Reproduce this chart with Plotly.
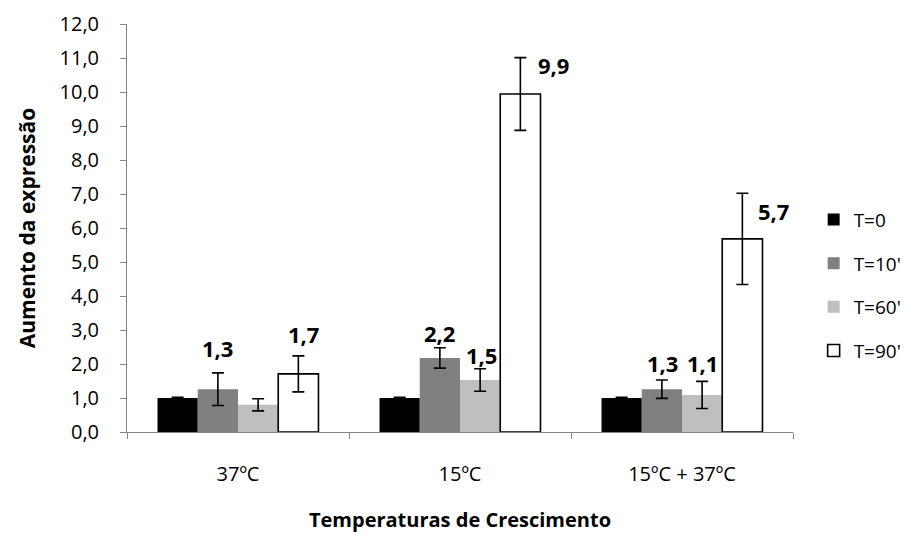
import plotly.graph_objects as go

categories = ["37ºC", "15ºC", "15ºC + 37ºC"]
series_names = ["T=0", "T=10'", "T=60'", "T=90'"]
values = [
    [1.00, 1.00, 1.00],
    [1.26, 2.18, 1.26],
    [0.80, 1.53, 1.09],
    [1.71, 9.94, 5.68],
]
errors = [
    [0.02, 0.02, 0.02],
    [0.48, 0.30, 0.27],
    [0.18, 0.33, 0.40],
    [0.53, 1.07, 1.34],
]
labels = [
    [None, None, None],
    ["1,3", "2,2", "1,3"],
    [None, "1,5", "1,1"],
    ["1,7", "9,9", "5,7"],
]
y_ticks = [0, 1, 2, 3, 4, 5, 6, 7, 8, 9, 10, 11, 12]

# styles
fills = ["#000000", "#808080", "#bfbfbf", "#ffffff"]
lines = [0, 0, 0, 1.6]
# label pixel offsets (dx, dy) relative to the error-bar top
label_shift = [
    [(0, 0), (0, 0), (0, 0)],
    [(0, 25), (0, 15), (1, 17)],
    [(0, 0), (1, 14), (0, 18)],
    [(5, 22), (33, -7), (31, -18)],
]

FONT = "'Open Sans', Lato, sans-serif"
bargap = 0.275
n = len(series_names)
bw = (1 - bargap) / n
xc = list(range(len(categories)))

fig = go.Figure()
for j, name in enumerate(series_names):
    fig.add_trace(go.Bar(
        name=name, x=xc, y=values[j], legendgroup=name,
        marker=dict(color=fills[j], line=dict(color="#000000", width=lines[j])),
        error_y=dict(type="data", array=errors[j], color="#000000", thickness=1.6, width=6),
    ))
    for i in range(len(categories)):
        if labels[j][i] is None:
            continue
        dx, dy = label_shift[j][i]
        fig.add_annotation(
            x=xc[i] + (j - (n - 1) / 2) * bw, y=values[j][i] + errors[j][i],
            xref="x", yref="y", text="<b>" + labels[j][i] + "</b>", showarrow=False,
            xanchor="center", yanchor="middle", xshift=dx, yshift=dy,
            font=dict(family=FONT, size=22, color="#000000"),
        )

fig.update_layout(
    width=906, height=535,
    margin=dict(l=127, r=113, t=24, b=103, autoexpand=False),
    paper_bgcolor="#ffffff", plot_bgcolor="#ffffff",
    barmode="group", bargap=bargap, bargroupgap=0,
    separators=", ",
    font=dict(family=FONT, size=19, color="#000000"),
    showlegend=True,
    legend=dict(x=1.031, y=0.36, xanchor="left", yanchor="middle",
                traceorder="grouped", tracegroupgap=16, itemwidth=30,
                font=dict(family=FONT, size=19, color="#000000")),
)
fig.update_xaxes(
    range=[-0.5, len(categories) - 0.5],
    tickvals=xc, ticktext=categories, ticks="", ticklabelstandoff=24,
    showline=True, linecolor="#868686", linewidth=1, showgrid=False, zeroline=False,
    minor=dict(tick0=0.5, dtick=1, ticks="outside", ticklen=6, tickcolor="#868686", showgrid=False),
    tickfont=dict(family=FONT, size=20),
    title=dict(text="<b>Temperaturas de Crescimento</b>", standoff=26,
               font=dict(family=FONT, size=20)),
)
fig.update_yaxes(
    range=[0, 12], tickvals=y_ticks, tickformat=".1f",
    ticks="outside", ticklen=6, tickcolor="#868686", ticklabelstandoff=17,
    showline=True, linecolor="#868686", linewidth=1, showgrid=False, zeroline=False,
    tickfont=dict(family=FONT, size=20),
    title=dict(text="<b>Aumento da expressão</b>", standoff=18,
               font=dict(family=FONT, size=21)),
)

fig.write_html("out.html")
